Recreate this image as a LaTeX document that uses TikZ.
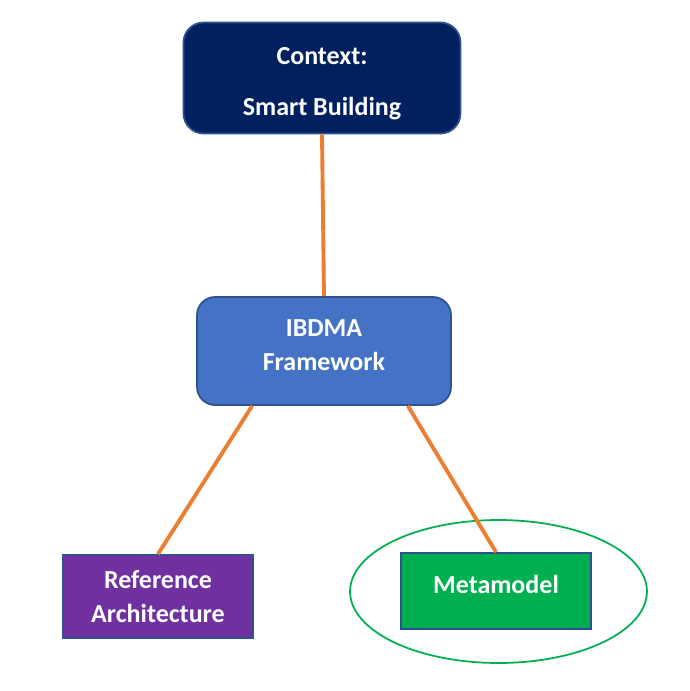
\documentclass[tikz,border=0pt]{standalone}
\usepackage{fontspec}
\setmainfont{Carlito}
\usetikzlibrary{shapes.geometric}
\definecolor{navy}{HTML}{002060}
\definecolor{midblue}{HTML}{4472C4}
\definecolor{edgeblue}{HTML}{2F528F}
\definecolor{violet}{HTML}{7030A0}
\definecolor{leaf}{HTML}{00B050}
\definecolor{tangerine}{HTML}{ED7D31}
\tikzset{
	block/.style={draw=edgeblue, line width=1pt, text=white, align=center, font=\fontsize{14.8}{18}\selectfont\bfseries},
	link/.style={draw=tangerine, line width=2.2pt}
}
\begin{document}
\begin{tikzpicture}[x=0.02cm, y=-0.02cm]
		\useasboundingbox (0,0) rectangle (690,691);
		\node[block, fill=navy, rounded corners=0.4cm, minimum width=5.54cm, minimum height=2.22cm] (ctx) at (322,78) {\rule{0pt}{16pt}Context:\\[11pt]Smart Building};
		\node[block, fill=midblue, rounded corners=0.36cm, minimum width=5.08cm, minimum height=2.16cm] (ibdma) at (324,351) {IBDMA\\[1.5pt]Framework\rule[-6.5pt]{0pt}{1pt}};
		\node[block, fill=violet, minimum width=3.8cm, minimum height=1.66cm] (ref) at (158,596.5) {Reference\\[1pt]Architecture};
		\node[block, fill=leaf, minimum width=3.8cm, minimum height=1.52cm] (meta) at (496,591) {\raisebox{7pt}{Metamodel}};
		\node[draw=leaf, line width=1pt, ellipse, minimum width=5.94cm, minimum height=2.86cm] (ring) at (498.5,591.5) {};
		
		\draw[link] (ctx.south) -- (ibdma.north);
		\draw[link] ([xshift=1.12cm]ibdma.south west) -- (ref.north);
		\draw[link] ([xshift=-0.88cm]ibdma.south east) -- (meta.north);
	\end{tikzpicture}
\end{document}
